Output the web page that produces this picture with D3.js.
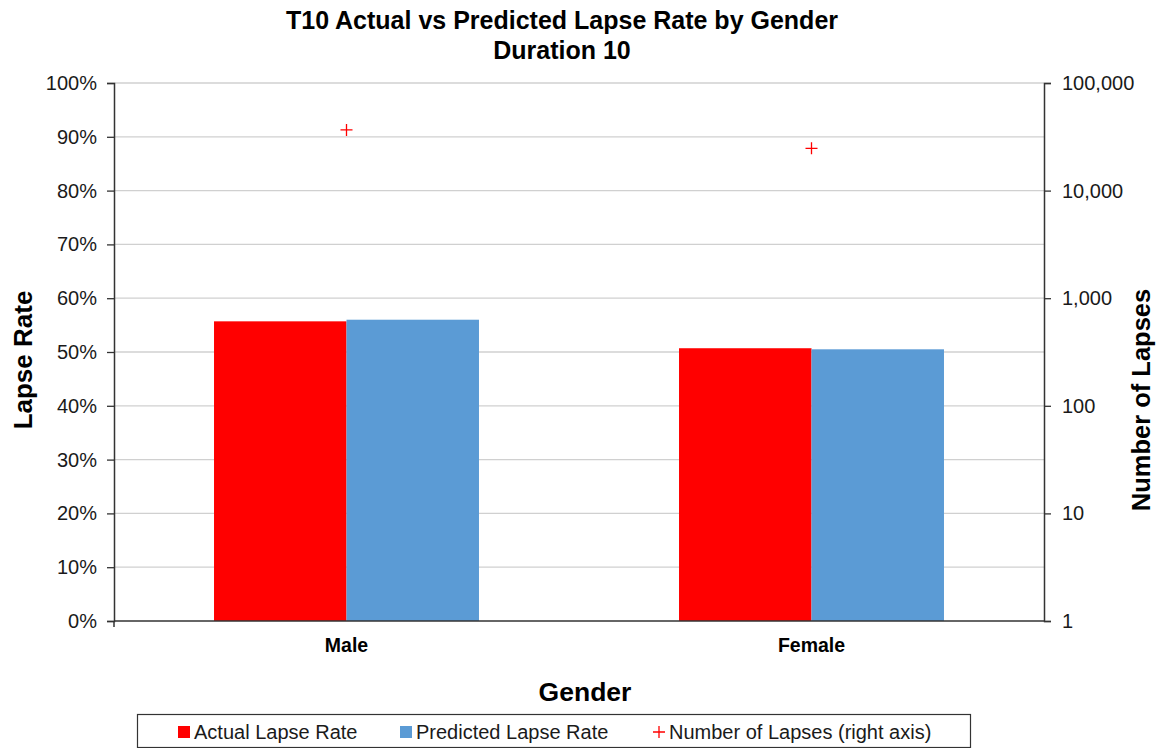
<!DOCTYPE html>
<html><head><meta charset="utf-8">
<script src="https://cdn.jsdelivr.net/npm/d3@7"></script>
<style>body{margin:0;background:#fff}svg{display:block;font-family:"Liberation Sans",Arial,sans-serif}</style>
</head><body><svg id="c" width="1162" height="748"></svg>
<script>
const categories = ["Male", "Female"];
const actualRate = [0.557, 0.507];
const predictedRate = [0.560, 0.505];
const numLapses = [36600, 24700];
const leftTicks = [0,0.1,0.2,0.3,0.4,0.5,0.6,0.7,0.8,0.9,1.0];
const rightTicks = [1,10,100,1000,10000,100000];

const svg = d3.select("#c");
const L = 114, R = 1044, T = 83, B = 621;
const x = d3.scaleBand().domain(categories).range([L, R]).paddingInner(0).paddingOuter(0);
const y = d3.scaleLinear().domain([0,1]).range([B, T]);
const y2 = d3.scaleLog().domain([1,100000]).range([B, T]);
const sub = d3.scaleBand().domain(["a","p"]).range([0, x.bandwidth()]).paddingOuter(0.755).paddingInner(0);

// gridlines
svg.append("g").selectAll("line").data(leftTicks.slice(1)).join("line")
  .attr("x1", L).attr("x2", R).attr("y1", d=>y(d)).attr("y2", d=>y(d))
  .attr("stroke", "#d0d0d0").attr("stroke-width", 1.3);

// bars
const g = svg.append("g");
categories.forEach((c,i)=>{
  g.append("rect").attr("x", x(c)+sub("a")).attr("y", y(actualRate[i])).attr("width", sub.bandwidth()).attr("height", B - y(actualRate[i]))
    .attr("fill", "#ff0000");
  g.append("rect").attr("x", x(c)+sub("p")).attr("y", y(predictedRate[i])).attr("width", sub.bandwidth()).attr("height", B - y(predictedRate[i]))
    .attr("fill", "#5b9bd5");
});

// markers
svg.append("g").selectAll("path").data(categories).join("path")
  .attr("transform", (d,i)=>`translate(${x(d)+x.bandwidth()/2},${y2(numLapses[i])})`)
  .attr("d", "M-6,0H6M0,-6V6").attr("stroke", "#ff0000").attr("stroke-width", 1.3).attr("fill", "none");

// left axis
const ya = svg.append("g").attr("transform", `translate(${L},0)`)
  .call(d3.axisLeft(y).tickValues(leftTicks).tickFormat(d3.format(".0%")).tickSize(7).tickPadding(10));
// right axis
const yb = svg.append("g").attr("transform", `translate(${R},0)`)
  .call(d3.axisRight(y2).tickValues(rightTicks).tickFormat(d3.format(",")).tickSize(7).tickPadding(11));
// bottom axis
const xa = svg.append("g").attr("transform", `translate(0,${B})`)
  .call(d3.axisBottom(x).tickSize(0).tickPadding(17));
xa.append("line").attr("x1", L).attr("x2", L).attr("y1", 0).attr("y2", 6).attr("stroke", "#333").attr("stroke-width", 1.5);
[ya, yb, xa].forEach(a=>{
  a.selectAll(".domain").attr("stroke", "#333").attr("stroke-width", 1.5);
  a.selectAll(".tick line").attr("stroke", "#333").attr("stroke-width", 1.3);
  a.selectAll("text").attr("fill", "#1a1a1a").attr("font-family", "Liberation Sans, Arial, sans-serif");
});
ya.selectAll("text").attr("font-size", 20);
yb.selectAll("text").attr("font-size", 20);
xa.selectAll(".tick text").attr("font-size", 19.5).attr("font-weight", "bold").attr("fill", "#000");
xa.select(".domain").attr("d", `M${L},0H${R}`);

// titles
svg.append("text").attr("x", 562).attr("y", 29).attr("text-anchor","middle").attr("font-size", 25).attr("font-weight","bold")
  .text("T10 Actual vs Predicted Lapse Rate by Gender");
svg.append("text").attr("x", 562).attr("y", 59).attr("text-anchor","middle").attr("font-size", 25).attr("font-weight","bold")
  .text("Duration 10");
svg.append("text").attr("transform", "translate(32,360) rotate(-90)").attr("text-anchor","middle").attr("font-size", 26).attr("font-weight","bold")
  .text("Lapse Rate");
svg.append("text").attr("transform", "translate(1150,400) rotate(-90)").attr("text-anchor","middle").attr("font-size", 25.5).attr("font-weight","bold")
  .text("Number of Lapses");
svg.append("text").attr("x", 585).attr("y", 701).attr("text-anchor","middle").attr("font-size", 26.5).attr("font-weight","bold")
  .text("Gender");

// legend
const lg = svg.append("g");
lg.append("rect").attr("x", 137.5).attr("y", 714.5).attr("width", 833).attr("height", 33).attr("fill","#fff").attr("stroke","#333").attr("stroke-width",1.2);
const items = [
  {label:"Actual Lapse Rate", color:"#ff0000", type:"sq", x:178},
  {label:"Predicted Lapse Rate", color:"#5b9bd5", type:"sq", x:400},
  {label:"Number of Lapses (right axis)", color:"#ff0000", type:"plus", x:653}
];
items.forEach(it=>{
  if (it.type==="sq") lg.append("rect").attr("x", it.x).attr("y", 726).attr("width", 12).attr("height", 12).attr("fill", it.color);
  else lg.append("path").attr("d", `M${it.x},732H${it.x+12}M${it.x+6},726V738`).attr("stroke", it.color).attr("stroke-width",1.3);
  lg.append("text").attr("x", it.x+16).attr("y", 739).attr("font-size", 20).attr("fill","#1a1a1a").text(it.label);
});
</script></body></html>
